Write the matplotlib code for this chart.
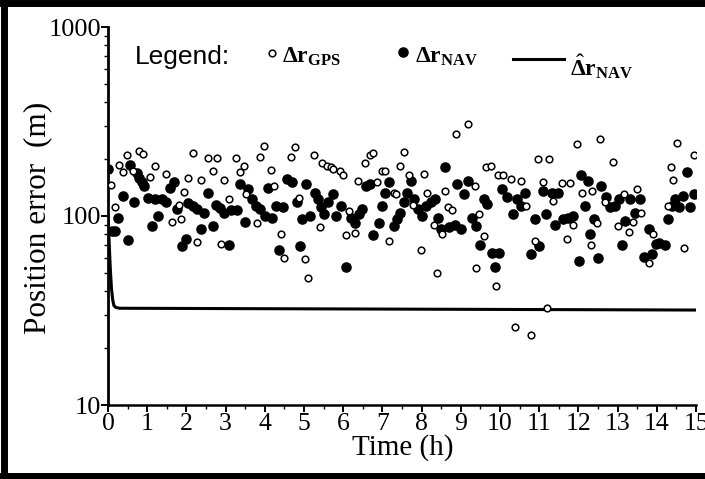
import matplotlib
matplotlib.use("Agg")
import matplotlib.pyplot as plt
from matplotlib.lines import Line2D
from matplotlib.ticker import LogLocator, NullFormatter, MultipleLocator

plt.rcParams["font.family"] = ["Liberation Serif", "DejaVu Serif"]
plt.rcParams["mathtext.fontset"] = "custom"
plt.rcParams["mathtext.rm"] = "Liberation Serif"
plt.rcParams["mathtext.bf"] = "Liberation Serif:bold"
plt.rcParams["mathtext.it"] = "Liberation Serif:italic"

# GPS position error (open circles), time in hours
gps_t = [0.07, 0.18, 0.28, 0.38, 0.48, 0.64, 0.78, 0.90, 1.07, 1.19, 1.47, 1.62, 1.80, 1.85,
         1.93, 2.05, 2.16, 2.28, 2.36, 2.54, 2.67, 2.77, 2.88, 2.97, 3.09, 3.26, 3.37, 3.46,
         3.53, 3.81, 3.87, 3.98, 4.17, 4.24, 4.41, 4.49, 4.67, 4.77, 4.87, 5.02, 5.11, 5.25,
         5.42, 5.47, 5.58, 5.68, 5.73, 5.91, 6.00, 6.06, 6.15, 6.29, 6.38, 6.56, 6.68, 6.76,
         6.86, 6.98, 7.07, 7.18, 7.30, 7.34, 7.46, 7.56, 7.67, 7.78, 7.99, 8.06, 8.15, 8.31,
         8.40, 8.53, 8.59, 8.67, 8.77, 8.88, 9.19, 9.35, 9.39, 9.47, 9.59, 9.65, 9.76, 9.91,
         9.96, 10.08, 10.28, 10.39, 10.54, 10.66, 10.80, 10.89, 10.97, 11.10, 11.21, 11.26,
         11.36, 11.57, 11.71, 11.78, 11.87, 11.97, 12.09, 12.32, 12.35, 12.48, 12.56, 12.68,
         12.87, 13.00, 13.17, 13.30, 13.39, 13.49, 13.60, 13.79, 13.90, 14.28, 14.36, 14.42,
         14.51, 14.69, 14.94]
gps_v = [146, 111, 186, 171, 209, 172, 220, 212, 160, 185, 166, 93, 115, 96,
         134, 158, 216, 73, 155, 203, 172, 203, 71, 155, 123, 202, 171, 184,
         130, 92, 205, 236, 176, 144, 80, 60, 204, 232, 124, 59, 47, 209,
         87, 190, 185, 181, 177, 173, 164, 79, 106, 81, 153, 191, 209, 215,
         151, 173, 172, 74, 133, 131, 185, 218, 164, 114, 66, 166, 132, 90,
         50, 80, 135, 112, 108, 271, 305, 145, 53, 102, 78, 181, 185, 42.4,
         164, 165, 157, 26, 153, 113, 23.4, 74, 200, 152, 32.5, 200,
         120, 150, 76, 150, 90, 240, 133, 70, 135, 92, 257, 119,
         193, 89, 130, 82, 93, 139, 104, 56.5, 80, 113, 181, 155,
         242, 68, 209]

# navigation solution error (filled circles)
nav_t = [0.00, 0.09, 0.18, 0.26, 0.39, 0.50, 0.55, 0.67, 0.73, 0.80, 0.87, 0.93, 1.01, 1.13,
         1.19, 1.27, 1.38, 1.47, 1.57, 1.68, 1.76, 1.88, 1.99, 2.05, 2.16, 2.28, 2.37, 2.45,
         2.56, 2.67, 2.76, 2.85, 2.95, 3.09, 3.15, 3.29, 3.37, 3.50, 3.58, 3.68, 3.78, 3.89,
         4.00, 4.09, 4.18, 4.29, 4.37, 4.47, 4.56, 4.70, 4.81, 4.89, 4.95, 5.04, 5.16, 5.27,
         5.36, 5.44, 5.50, 5.62, 5.73, 5.82, 5.94, 6.08, 6.19, 6.31, 6.40, 6.48, 6.57, 6.68,
         6.77, 6.91, 6.98, 7.06, 7.18, 7.29, 7.37, 7.46, 7.55, 7.64, 7.72, 7.80, 7.90, 8.01,
         8.12, 8.24, 8.35, 8.42, 8.50, 8.59, 8.70, 8.84, 8.90, 9.01, 9.07, 9.19, 9.28, 9.38,
         9.50, 9.59, 9.67, 9.79, 9.88, 9.97, 10.05, 10.17, 10.34, 10.43, 10.54, 10.64, 10.80,
         10.89, 11.00, 11.09, 11.18, 11.32, 11.40, 11.49, 11.60, 11.74, 11.86, 12.01, 12.06,
         12.16, 12.24, 12.29, 12.39, 12.50, 12.58, 12.70, 12.81, 12.94, 13.03, 13.12, 13.20,
         13.31, 13.45, 13.56, 13.68, 13.79, 13.89, 13.97, 14.06, 14.20, 14.29, 14.38, 14.47,
         14.57, 14.68, 14.76, 14.85, 14.94]
nav_v = [178, 83, 83, 98, 127, 75, 187, 118, 168, 158, 151, 145, 124, 88,
         123, 100, 123, 118, 141, 151, 109, 69, 76, 117, 113, 109, 85, 104,
         133, 89, 114, 110, 104, 70, 108, 108, 147, 93, 139, 123, 113, 109,
         100, 141, 98, 113, 66, 111, 157, 152, 118, 69, 96, 148, 100, 133,
         123, 111, 102, 118, 131, 100, 113, 54, 98, 92, 102, 109, 145, 148,
         79, 92, 113, 133, 151, 89, 96, 104, 118, 133, 154, 123, 109, 100,
         113, 118, 123, 98, 85, 181, 87, 90, 148, 85, 131, 154, 98, 89,
         70, 123, 116, 64, 54, 64, 139, 126, 102, 123, 113, 132, 63,
         96, 69, 136, 102, 133, 90, 133, 96, 98, 100, 58, 164,
         113, 154, 80, 96, 60, 145, 126, 111, 113, 123, 70, 94,
         123, 104, 123, 61, 85, 63, 71, 72, 70, 96, 113, 123,
         111, 128, 171, 111, 131]

# filtered navigation error estimate (solid line)
est_t = [0.0, 0.03, 0.06, 0.09, 0.12, 0.15, 0.20, 0.30, 15.0]
est_v = [100, 72, 52, 41, 36, 33.6, 32.8, 32.5, 31.8]

fig = plt.figure(figsize=(7.05, 4.79), dpi=100)
ax = fig.add_axes([108 / 705, 1 - 405 / 479, 588 / 705, 378 / 479])

ax.plot(est_t, est_v, color="black", lw=2.2, zorder=2)
ax.plot(nav_t, nav_v, "o", color="black", ms=6.6, zorder=3)
ax.plot(gps_t, gps_v, "o", mfc="white", mec="black", ms=4.8, mew=1.1, zorder=4)

ax.set_yscale("log")
ax.set_ylim(10, 1000)
ax.set_xlim(0, 15)
ax.yaxis.set_major_locator(LogLocator(base=10))
ax.yaxis.set_minor_locator(LogLocator(base=10, subs=range(2, 10)))
ax.yaxis.set_minor_formatter(NullFormatter())
ax.set_yticks([10, 100, 1000])
ax.set_yticklabels(["10", "100", "1000"])
ax.xaxis.set_major_locator(MultipleLocator(1))
ax.xaxis.set_minor_locator(MultipleLocator(0.5))

for side in ["top", "right"]:
    ax.spines[side].set_visible(False)
ax.spines["left"].set_linewidth(2.0)
ax.spines["bottom"].set_linewidth(1.8)
ax.tick_params(axis="both", which="major", direction="out", length=5, width=1.4)
ax.tick_params(axis="both", which="minor", direction="out", length=3, width=1.0)
ax.tick_params(axis="x", labelsize=18.5, pad=1)
ax.tick_params(axis="y", labelsize=19, pad=0)

# axis titles placed as in the scan
ax.text(0.502, -0.112, "Time (h)", transform=ax.transAxes, fontsize=21,
        ha="center", va="center")
ax.text(-0.12, 0.496, "Position error  (m)", transform=ax.transAxes, fontsize=22.5,
        rotation=90, ha="center", va="center")

# legend drawn as free text, like the original
ax.text(0.046, 0.921, "Legend:", transform=ax.transAxes, fontsize=19,
        family=["Liberation Sans"], va="center", ha="left")
ax.plot([0.279], [0.931], "o", mfc="white", mec="black", ms=4.8, mew=1.1,
        transform=ax.transAxes, clip_on=False)
ax.text(0.296, 0.921, r"$\mathbf{\Delta r}_{\mathbf{GPS}}$", transform=ax.transAxes,
        fontsize=17, va="center", ha="left")
ax.plot([0.502], [0.934], "o", color="black", ms=6.6, transform=ax.transAxes, clip_on=False)
ax.text(0.522, 0.921, r"$\mathbf{\Delta r}_{\mathbf{NAV}}$", transform=ax.transAxes,
        fontsize=17, va="center", ha="left")
ax.plot([0.689, 0.776], [0.915, 0.915], color="black", lw=2.2, transform=ax.transAxes,
        clip_on=False)
ax.text(0.786, 0.895, r"$\hat{\mathbf{\Delta}}\mathbf{r}_{\mathbf{NAV}}$",
        transform=ax.transAxes, fontsize=17, va="center", ha="left")

# thick scanned-page frame (left, top, bottom)
for xs, ys in [([0.005, 0.005], [0, 1]), ([0, 1], [0.993, 0.993]), ([0, 1], [0.006, 0.006])]:
    fig.add_artist(Line2D(xs, ys, color="black", lw=5, transform=fig.transFigure))

fig.savefig("out.png", dpi=100)
